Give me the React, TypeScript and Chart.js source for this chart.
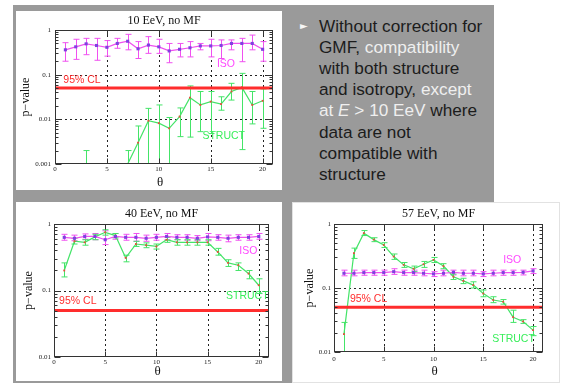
import React, { useEffect, useRef } from 'react';
import { Chart, registerables } from 'chart.js';

Chart.register(...registerables);

// ---------- data ----------
const THETA = [1, 2, 3, 4, 5, 6, 7, 8, 9, 10, 11, 12, 13, 14, 15, 16, 17, 18, 19, 20];
const CL95 = 0.05;
const X_TICKS = [0, 5, 10, 15, 20];
const Y_TICKS_3DEC = [1, 0.1, 0.01, 0.001];
const Y_TICKS_2DEC = [1, 0.1, 0.01];

// 10 EeV, no MF
const ISO_10 = [0.36, 0.42, 0.49, 0.45, 0.41, 0.5, 0.56, 0.38, 0.46, 0.42, 0.34, 0.37, 0.4, 0.44, 0.44, 0.45, 0.5, 0.5, 0.5, 0.37];
const ISO_10_HI = [0.52, 0.62, 0.65, 0.65, 0.58, 0.65, 0.8, 0.55, 0.71, 0.62, 0.5, 0.5, 0.55, 0.5, 0.62, 0.6, 0.6, 0.65, 0.77, 0.55];
const ISO_10_LO = [0.2, 0.22, 0.28, 0.21, 0.26, 0.39, 0.36, 0.23, 0.3, 0.3, 0.185, 0.25, 0.25, 0.36, 0.25, 0.23, 0.36, 0.195, 0.36, 0.2];
const STRUCT_10 = [null, null, 0.001, null, null, null, 0.001, 0.003, 0.0093, 0.0082, 0.0063, 0.0115, 0.0305, 0.021, 0.025, 0.022, 0.042, 0.052, 0.021, 0.026];
const STRUCT_10_HI = [null, null, 0.002, null, null, null, 0.002, 0.0071, 0.0176, 0.021, 0.011, 0.018, 0.056, 0.042, 0.042, 0.032, 0.064, 0.107, 0.042, 0.048];
const STRUCT_10_LO = [null, null, 0.001, null, null, null, 0.001, 0.0009, 0.0009, 0.0009, 0.0009, 0.0041, 0.004, 0.0053, 0.0048, 0.016, 0.027, 0.0021, 0.0079, 0.0063];

// 40 EeV, no MF
const ISO_40 = [0.63, 0.61, 0.65, 0.65, 0.58, 0.65, 0.63, 0.63, 0.61, 0.63, 0.65, 0.63, 0.63, 0.61, 0.64, 0.63, 0.61, 0.63, 0.63, 0.65];
const ISO_40_HI = [0.7, 0.68, 0.71, 0.72, 0.79, 0.72, 0.7, 0.72, 0.68, 0.7, 0.72, 0.69, 0.69, 0.67, 0.72, 0.69, 0.68, 0.69, 0.69, 0.72];
const ISO_40_LO = [0.57, 0.56, 0.59, 0.58, 0.49, 0.59, 0.57, 0.55, 0.55, 0.57, 0.58, 0.58, 0.57, 0.56, 0.56, 0.57, 0.54, 0.57, 0.57, 0.59];
const STRUCT_40 = [0.2, 0.55, 0.53, 0.64, 0.75, 0.67, 0.31, 0.5, 0.48, 0.46, 0.58, 0.53, 0.53, 0.53, 0.53, 0.38, 0.26, 0.24, 0.18, 0.12];
const STRUCT_40_HI = [0.26, 0.61, 0.58, 0.7, 0.82, 0.72, 0.34, 0.55, 0.52, 0.5, 0.63, 0.58, 0.58, 0.58, 0.58, 0.43, 0.29, 0.26, 0.2, 0.15];
const STRUCT_40_LO = [0.16, 0.5, 0.48, 0.58, 0.68, 0.62, 0.27, 0.46, 0.44, 0.42, 0.53, 0.48, 0.48, 0.48, 0.48, 0.34, 0.23, 0.2, 0.15, 0.09];

// 57 EeV, no MF
const ISO_57 = [0.17, 0.17, 0.174, 0.174, 0.174, 0.18, 0.174, 0.174, 0.17, 0.166, 0.17, 0.176, 0.17, 0.17, 0.166, 0.17, 0.174, 0.174, 0.176, 0.185];
const ISO_57_HI = [0.19, 0.19, 0.19, 0.19, 0.19, 0.2, 0.19, 0.19, 0.19, 0.18, 0.19, 0.19, 0.19, 0.19, 0.18, 0.19, 0.19, 0.19, 0.19, 0.2];
const ISO_57_LO = [0.155, 0.155, 0.158, 0.158, 0.158, 0.163, 0.158, 0.158, 0.155, 0.151, 0.155, 0.16, 0.155, 0.155, 0.151, 0.155, 0.158, 0.158, 0.16, 0.168];
const STRUCT_57 = [0.019, 0.35, 0.72, 0.57, 0.47, 0.31, 0.23, 0.2, 0.235, 0.275, 0.22, 0.15, 0.129, 0.111, 0.082, 0.065, 0.061, 0.035, 0.03, 0.022];
const STRUCT_57_HI = [0.029, 0.42, 0.79, 0.61, 0.51, 0.34, 0.25, 0.22, 0.26, 0.3, 0.24, 0.165, 0.142, 0.125, 0.093, 0.073, 0.066, 0.045, 0.032, 0.025];
const STRUCT_57_LO = [0.009, 0.29, 0.66, 0.53, 0.43, 0.28, 0.21, 0.18, 0.21, 0.25, 0.2, 0.136, 0.117, 0.1, 0.073, 0.059, 0.056, 0.029, 0.028, 0.018];

// ---------- styling ----------
const SERIF = '"Liberation Serif", "DejaVu Serif", serif';
const SANS = '"Liberation Sans", Arial, sans-serif';
const ISO_COLOR = '#f050f0';
const ISO_POINT = '#8040e0';
const STRUCT_COLOR = '#44e468';
const STRUCT_POINT = '#e84a3a';
const CL_COLOR = '#ff2d2d';

type Label = { text: string; color: string; x: number; y: number };
type Spec = {
  title: string;
  iso: (number | null)[]; isoHi: (number | null)[]; isoLo: (number | null)[];
  st: (number | null)[]; stHi: (number | null)[]; stLo: (number | null)[];
  yMin: number; yTicks: number[];
  left: number; top: number; w: number; h: number;
  yAxisW: number; xAxisH: number; padTop: number; padRight: number;
  yLabPad: number; xLabPad: number;
  titleDy: number; yTitleDx: number; xTitleDy: number;
  labels: Label[];
  border?: boolean;
};

const gnuPlugin = {
  id: 'gnu',
  beforeDatasetsDraw(chart: any, _a: any, o: any) {
    const { ctx, chartArea: ca, scales } = chart;
    const x = scales.x, y = scales.y;
    ctx.save();
    ctx.strokeStyle = '#222';
    ctx.lineWidth = 1;
    ctx.setLineDash([2, 3]);
    for (const v of X_TICKS) {
      if (v <= x.min) continue;
      const px = Math.round(x.getPixelForValue(v)) + 0.5;
      ctx.beginPath(); ctx.moveTo(px, ca.top); ctx.lineTo(px, ca.bottom); ctx.stroke();
    }
    for (const v of o.yTicks) {
      if (v >= 1 || v <= o.yMin) continue;
      const py = Math.round(y.getPixelForValue(v)) + 0.5;
      ctx.beginPath(); ctx.moveTo(ca.left, py); ctx.lineTo(ca.right, py); ctx.stroke();
    }
    ctx.setLineDash([]);
    ctx.beginPath(); ctx.rect(ca.left, ca.top, ca.width, ca.height); ctx.clip();
    chart.data.datasets.forEach((ds: any) => {
      if (!ds.err) return;
      ctx.strokeStyle = ds.err.color;
      ctx.lineWidth = 1;
      ds.err.hi.forEach((hi: number | null, k: number) => {
        const lo = ds.err.lo[k];
        if (hi == null || lo == null) return;
        const px = Math.round(x.getPixelForValue(THETA[k])) + 0.5;
        const pt = y.getPixelForValue(hi);
        const pb = y.getPixelForValue(lo);
        ctx.beginPath();
        ctx.moveTo(px, pt); ctx.lineTo(px, pb);
        ctx.moveTo(px - 3, pt); ctx.lineTo(px + 3, pt);
        ctx.moveTo(px - 3, pb); ctx.lineTo(px + 3, pb);
        ctx.stroke();
      });
    });
    ctx.restore();
  },
  afterDatasetsDraw(chart: any, _a: any, o: any) {
    const { ctx, chartArea: ca, scales } = chart;
    const x = scales.x, y = scales.y;
    ctx.save();
    ctx.strokeStyle = '#333';
    ctx.lineWidth = 1;
    const L = Math.round(ca.left) + 0.5, R = Math.round(ca.right) - 0.5;
    const T = Math.round(ca.top) + 0.5, B = Math.round(ca.bottom) - 0.5;
    ctx.strokeRect(L, T, R - L, B - T);
    ctx.beginPath();
    for (const v of X_TICKS) {
      const px = Math.round(x.getPixelForValue(v)) + 0.5;
      ctx.moveTo(px, B); ctx.lineTo(px, B - 5);
      ctx.moveTo(px, T); ctx.lineTo(px, T + 5);
    }
    for (let d = o.yMin; d < 1.0001; d *= 10) {
      const py = Math.round(y.getPixelForValue(d)) + 0.5;
      ctx.moveTo(L, py); ctx.lineTo(L + 6, py);
      ctx.moveTo(R, py); ctx.lineTo(R - 6, py);
      if (d < 0.999) {
        for (let m = 2; m <= 9; m++) {
          const pm = Math.round(y.getPixelForValue(d * m)) + 0.5;
          ctx.moveTo(L, pm); ctx.lineTo(L + 3, pm);
          ctx.moveTo(R, pm); ctx.lineTo(R - 3, pm);
        }
      }
    }
    ctx.stroke();
    ctx.restore();
  },
  afterDraw(chart: any, _a: any, o: any) {
    const { ctx, chartArea: ca, scales } = chart;
    const x = scales.x, y = scales.y;
    ctx.save();
    const midX = (ca.left + ca.right) / 2;
    ctx.fillStyle = '#111';
    ctx.textAlign = 'center';
    ctx.textBaseline = 'middle';
    ctx.font = `12px ${SERIF}`;
    ctx.fillText(o.title, midX, ca.top + o.titleDy);
    ctx.font = `13px ${SERIF}`;
    ctx.fillText('θ', midX - 4, ca.bottom + o.xTitleDy);
    ctx.save();
    ctx.translate(ca.left + o.yTitleDx, (ca.top + ca.bottom) / 2);
    ctx.rotate(-Math.PI / 2);
    ctx.font = `12px ${SERIF}`;
    ctx.fillText('p−value', 0, 0);
    ctx.restore();
    ctx.textAlign = 'left';
    ctx.font = `10.5px ${SANS}`;
    for (const lb of o.labels as Label[]) {
      ctx.fillStyle = lb.color;
      ctx.fillText(lb.text, x.getPixelForValue(lb.x), y.getPixelForValue(lb.y));
    }
    ctx.restore();
  },
};

function PChart({ spec }: { spec: Spec }) {
  const ref = useRef<HTMLCanvasElement>(null);
  useEffect(() => {
    const toPts = (arr: (number | null)[]) => THETA.map((t, i) => ({ x: t, y: arr[i] }));
    const chart = new Chart(ref.current as HTMLCanvasElement, {
      type: 'line',
      data: {
        datasets: [
          {
            label: '95% CL',
            data: [{ x: 0, y: CL95 }, { x: 21, y: CL95 }],
            borderColor: CL_COLOR,
            borderWidth: 3,
            pointRadius: 0,
          },
          {
            label: 'ISO',
            data: toPts(spec.iso),
            borderColor: ISO_COLOR,
            borderWidth: 1.2,
            pointStyle: 'rect',
            pointRadius: 2.2,
            pointBackgroundColor: ISO_POINT,
            pointBorderColor: ISO_POINT,
            pointBorderWidth: 0,
            err: { hi: spec.isoHi, lo: spec.isoLo, color: ISO_COLOR },
          } as any,
          {
            label: 'STRUCT',
            data: toPts(spec.st),
            borderColor: STRUCT_COLOR,
            borderWidth: 1.2,
            pointStyle: 'rect',
            pointRadius: 1.3,
            pointBackgroundColor: STRUCT_POINT,
            pointBorderColor: STRUCT_POINT,
            pointBorderWidth: 0,
            spanGaps: false,
            err: { hi: spec.stHi, lo: spec.stLo, color: STRUCT_COLOR },
          } as any,
        ],
      },
      options: {
        animation: false,
        responsive: false,
        devicePixelRatio: 1,
        events: [],
        layout: { padding: { top: spec.padTop, right: spec.padRight, left: 0, bottom: 0 } },
        plugins: {
          legend: { display: false },
          tooltip: { enabled: false },
          gnu: spec,
        } as any,
        scales: {
          x: {
            type: 'linear',
            min: 0,
            max: 21,
            grid: { display: false, drawTicks: false },
            border: { display: false },
            afterBuildTicks: (s: any) => { s.ticks = X_TICKS.map((v) => ({ value: v })); },
            afterFit: (s: any) => { s.height = spec.xAxisH; },
            ticks: {
              autoSkip: false, maxRotation: 0, padding: spec.xLabPad,
              color: '#222', font: { family: SERIF, size: 7 },
              callback: (v: any) => String(v),
            },
          },
          y: {
            type: 'logarithmic',
            min: spec.yMin,
            max: 1,
            grid: { display: false, drawTicks: false },
            border: { display: false },
            afterBuildTicks: (s: any) => { s.ticks = spec.yTicks.map((v) => ({ value: v })); },
            afterFit: (s: any) => { s.width = spec.yAxisW; },
            ticks: {
              autoSkip: false, padding: spec.yLabPad,
              color: '#222', font: { family: SERIF, size: 7 },
              callback: (v: any) => String(v),
            },
          },
        },
      },
      plugins: [gnuPlugin],
    });
    return () => chart.destroy();
  }, [spec]);
  return (
    <div
      style={{
        position: 'absolute',
        left: spec.left - (spec.border ? 1 : 0),
        top: spec.top - (spec.border ? 1 : 0),
        width: spec.w,
        height: spec.h,
        background: '#fff',
        border: spec.border ? '1px solid #e2e2e2' : 'none',
      }}
    >
      <canvas ref={ref} width={spec.w} height={spec.h} style={{ display: 'block', width: spec.w, height: spec.h }} />
    </div>
  );
}

const SPEC_10: Spec = {
  title: '10 EeV, no MF',
  iso: ISO_10, isoHi: ISO_10_HI, isoLo: ISO_10_LO,
  st: STRUCT_10, stHi: STRUCT_10_HI, stLo: STRUCT_10_LO,
  yMin: 0.001, yTicks: Y_TICKS_3DEC,
  left: 16, top: 11, w: 266, h: 179,
  yAxisW: 39, xAxisH: 26, padTop: 19, padRight: 9,
  yLabPad: 4, xLabPad: 1,
  titleDy: -9, yTitleDx: -29, xTitleDy: 19,
  labels: [
    { text: '95% CL', color: CL_COLOR, x: 0.8, y: 0.076 },
    { text: 'ISO', color: '#ff48ff', x: 15.6, y: 0.174 },
    { text: 'STRUCT', color: '#38ee5a', x: 14.2, y: 0.0042 },
  ],
};

const SPEC_40: Spec = {
  title: '40 EeV, no MF',
  iso: ISO_40, isoHi: ISO_40_HI, isoLo: ISO_40_LO,
  st: STRUCT_40, stHi: STRUCT_40_HI, stLo: STRUCT_40_LO,
  yMin: 0.01, yTicks: Y_TICKS_2DEC,
  left: 16, top: 202, w: 266, h: 179,
  yAxisW: 38, xAxisH: 24, padTop: 22, padRight: 13,
  yLabPad: 3, xLabPad: 1,
  titleDy: -10, yTitleDx: -25, xTitleDy: 15,
  labels: [
    { text: '95% CL', color: CL_COLOR, x: 0.5, y: 0.069 },
    { text: 'ISO', color: '#ff48ff', x: 18.1, y: 0.39 },
    { text: 'STRUCT', color: '#38ee5a', x: 16.8, y: 0.082 },
  ],
};

const SPEC_57: Spec = {
  title: '57 EeV, no MF',
  iso: ISO_57, isoHi: ISO_57_HI, isoLo: ISO_57_LO,
  st: STRUCT_57, stHi: STRUCT_57_HI, stLo: STRUCT_57_LO,
  yMin: 0.01, yTicks: Y_TICKS_2DEC,
  left: 293, top: 203, w: 266, h: 179,
  yAxisW: 41, xAxisH: 30, padTop: 21, padRight: 16,
  yLabPad: 3, xLabPad: 3,
  titleDy: -10, yTitleDx: -24, xTitleDy: 20,
  labels: [
    { text: '95% CL', color: CL_COLOR, x: 1.6, y: 0.067 },
    { text: 'ISO', color: '#ff48ff', x: 17.0, y: 0.275 },
    { text: 'STRUCT', color: '#38ee5a', x: 15.9, y: 0.0158 },
  ],
  border: true,
};

function TextPanel() {
  const hl = { color: '#efefef' };
  return (
    <>
      <div style={{ position: 'absolute', left: 300, top: 20, color: '#f6f6f6', fontSize: 10, lineHeight: '12px', fontFamily: '"DejaVu Sans", sans-serif' }}>►</div>
      <div
        style={{
          position: 'absolute', left: 319, top: 15.5,
          fontFamily: SANS, fontSize: 17.2, lineHeight: '21.2px',
          color: '#1c1c1c', whiteSpace: 'nowrap',
        }}
      >
        Without correction for<br />
        GMF, <span style={hl}>compatibility</span><br />
        with both structure<br />
        and isotropy, <span style={hl}>except</span><br />
        <span style={hl}>at <i>E</i> &gt; 10 EeV</span> where<br />
        data are not<br />
        compatible with<br />
        structure
      </div>
    </>
  );
}

export default function App() {
  return (
    <div style={{ position: 'absolute', left: 0, top: 0, width: 562, height: 383, background: '#fff', overflow: 'hidden' }}>
      <div style={{ position: 'absolute', left: 13, top: 5, width: 481, height: 378, background: '#9a9a9a' }} />
      <TextPanel />
      <PChart spec={SPEC_10} />
      <PChart spec={SPEC_40} />
      <PChart spec={SPEC_57} />
    </div>
  );
}
